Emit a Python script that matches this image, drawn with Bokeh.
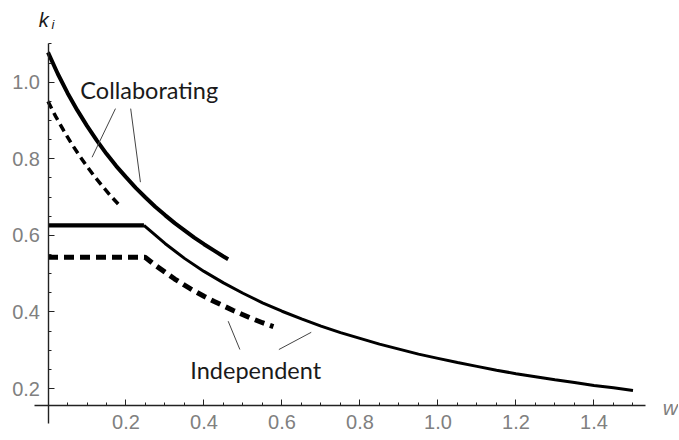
from bokeh.plotting import figure
from bokeh.models import Range1d, LinearAxis, FixedTicker, Label, PrintfTickFormatter
from bokeh.embed import file_html
from bokeh.resources import INLINE
from bokeh.core.properties import value

# ---- data ----
collab_w = [0.0, 0.025, 0.05, 0.075, 0.10, 0.125, 0.15, 0.175, 0.20, 0.225, 0.25, 0.275, 0.30,
            0.325, 0.35, 0.375, 0.40, 0.425, 0.45, 0.462]
collab_k = [1.078, 1.022, 0.972, 0.927, 0.886, 0.848, 0.813, 0.781, 0.752, 0.724, 0.699, 0.675,
            0.653, 0.632, 0.613, 0.594, 0.577, 0.561, 0.545, 0.538]

collab_dash_w = [0.0, 0.02, 0.04, 0.06, 0.08, 0.10, 0.12, 0.14, 0.16, 0.18]
collab_dash_k = [0.950, 0.910, 0.874, 0.840, 0.809, 0.780, 0.753, 0.728, 0.704, 0.682]

indep_w = [0.0, 0.246, 0.30, 0.35, 0.40, 0.45, 0.50, 0.55, 0.60, 0.65, 0.70, 0.75, 0.80, 0.85,
           0.90, 0.95, 1.00, 1.05, 1.10, 1.15, 1.20, 1.25, 1.30, 1.35, 1.40, 1.45, 1.50]
indep_k = [0.626, 0.626, 0.579, 0.540, 0.506, 0.476, 0.449, 0.424, 0.402, 0.382, 0.363, 0.346,
           0.331, 0.316, 0.303, 0.290, 0.279, 0.268, 0.258, 0.248, 0.239, 0.231, 0.223, 0.216,
           0.208, 0.202, 0.195]

indep_dash_w = [0.0, 0.249, 0.275, 0.30, 0.325, 0.35, 0.375, 0.40, 0.425, 0.45, 0.475, 0.50,
                0.525, 0.55, 0.578]
indep_dash_k = [0.543, 0.543, 0.522, 0.504, 0.486, 0.470, 0.455, 0.441, 0.428, 0.416, 0.404,
                0.393, 0.382, 0.372, 0.362]

x_ticks = [0.2, 0.4, 0.6, 0.8, 1.0, 1.2, 1.4]
x_minor = [0.05, 0.1, 0.15, 0.25, 0.3, 0.35, 0.45, 0.5, 0.55, 0.65, 0.7, 0.75, 0.85, 0.9, 0.95,
           1.05, 1.1, 1.15, 1.25, 1.3, 1.35, 1.45, 1.5]
y_ticks = [0.2, 0.4, 0.6, 0.8, 1.0]
y_minor = [0.25, 0.3, 0.35, 0.45, 0.5, 0.55, 0.65, 0.7, 0.75, 0.85, 0.9, 0.95, 1.05, 1.1]

label_text = ["Collaborating", "Independent"]
label_w = [0.083, 0.365]
label_k = [0.959, 0.228]

leader_w0 = [0.173, 0.212, 0.462, 0.592]
leader_k0 = [0.931, 0.931, 0.376, 0.302]
leader_w1 = [0.113, 0.237, 0.492, 0.675]
leader_k1 = [0.804, 0.739, 0.302, 0.347]

# ---- figure: frame fills the whole canvas so that nothing is clipped ----
p = figure(frame_width=678, frame_height=439,
           x_range=Range1d(-0.1218, 1.6167), y_range=Range1d(0.0671, 1.2133),
           output_backend="svg", toolbar_location=None,
           x_axis_type=None, y_axis_type=None,
           min_border_left=0, min_border_right=0, min_border_top=0, min_border_bottom=0)
p.outline_line_color = None
p.background_fill_color = "white"
p.border_fill_color = "white"

axis_col = "#222222"
tick_col = "#808080"

xaxis = LinearAxis(fixed_location=0.157, bounds=(-0.034, 1.531),
                   ticker=FixedTicker(ticks=x_ticks, minor_ticks=x_minor),
                   formatter=PrintfTickFormatter(format="%.1f"))
yaxis = LinearAxis(fixed_location=0.0, bounds=(0.109, 1.10),
                   ticker=FixedTicker(ticks=y_ticks, minor_ticks=y_minor),
                   formatter=PrintfTickFormatter(format="%.1f"))
for ax in (xaxis, yaxis):
    ax.axis_line_color = axis_col
    ax.axis_line_width = 1.4
    ax.major_tick_line_color = axis_col
    ax.minor_tick_line_color = axis_col
    ax.major_tick_in = 6
    ax.major_tick_out = 0
    ax.minor_tick_in = 3
    ax.minor_tick_out = 0
    ax.major_label_text_font = "Liberation Sans"
    ax.major_label_text_font_size = "20px"
    ax.major_label_text_color = tick_col
xaxis.major_label_standoff = 10
yaxis.major_label_standoff = 8
p.add_layout(xaxis, "below")
p.add_layout(yaxis, "left")

# ---- curves ----
p.line(collab_w, collab_k, line_color="black", line_width=4)
p.line(collab_dash_w, collab_dash_k, line_color="black", line_width=3.5, line_dash="8 5")
p.line(indep_w[:2], indep_k[:2], line_color="black", line_width=4.3)
p.line(indep_w[1:], indep_k[1:], line_color="black", line_width=3)
p.line(indep_dash_w, indep_dash_k, line_color="black", line_width=5, line_dash="10 6")

# ---- annotations ----
p.segment(x0=leader_w0, y0=leader_k0, x1=leader_w1, y1=leader_k1, line_color="#444444", line_width=1)
p.text(x=label_w, y=label_k, text=label_text, text_font=value("Lato"), text_font_size="23.5px",
       text_color="#1a1a1a", text_baseline="alphabetic", text_align="left", y_offset=-8)

p.add_layout(Label(x=-0.024, y=1.148, text="k", text_font="Liberation Sans", text_font_style="italic",
                   text_font_size="20px", text_color="#1a1a1a", text_baseline="alphabetic",
                   y_offset=6))
p.add_layout(Label(x=0.009, y=1.134, text="i", text_font="Liberation Sans", text_font_style="italic",
                   text_font_size="13px", text_color="#1a1a1a", text_baseline="alphabetic",
                   y_offset=6))
p.add_layout(Label(x=1.576, y=0.138, text="w", text_font="Liberation Sans", text_font_style="italic",
                   text_font_size="21px", text_color="#808080", text_baseline="alphabetic",
                   y_offset=5))

open("out.html", "w").write(file_html(p, INLINE))
